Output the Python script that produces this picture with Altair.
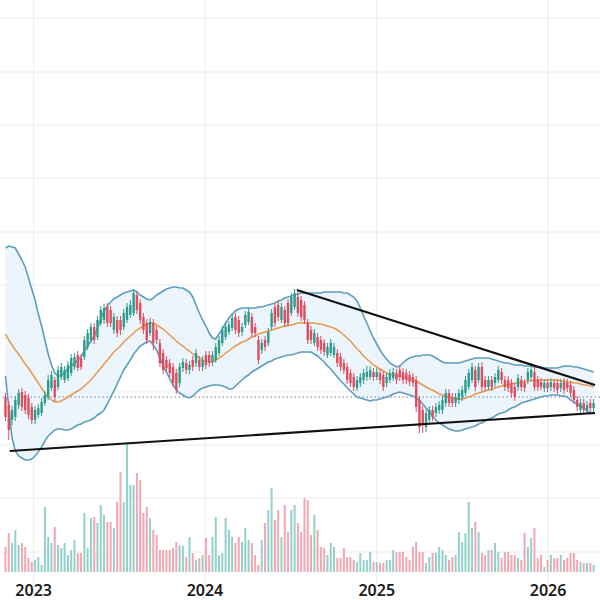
import altair as alt
import pandas as pd
import numpy as np

# ---------------- data (weekly candles) ----------------
open_ = [20.3,19.5,18.0,18.3,19.5,20.8,20.5,20.2,19.3,18.0,
         18.5,18.7,19.7,20.3,21.2,22.0,21.3,22.3,22.0,22.2,
         22.7,23.3,24.5,24.2,24.3,25.3,26.0,27.3,26.3,27.7,
         28.0,29.3,29.0,27.0,28.0,28.0,27.3,28.0,28.5,28.7,
         30.5,29.7,28.3,27.7,26.7,27.7,27.0,25.7,24.7,24.0,
         23.7,23.3,22.7,21.7,23.2,23.7,23.0,24.0,23.7,24.0,
         23.3,24.5,24.5,23.8,24.0,24.7,25.7,26.3,26.8,27.2,
         28.3,28.0,26.8,27.5,27.8,28.3,27.3,26.0,25.0,26.0,
         25.7,27.3,29.3,29.5,28.0,29.0,29.7,28.7,29.3,30.3,
         30.0,29.5,27.7,27.0,25.7,26.3,26.0,25.7,24.5,24.7,
         24.5,24.7,24.3,23.7,23.3,22.7,22.3,21.2,21.7,22.0,
         22.3,22.3,22.8,22.3,22.7,22.5,21.7,22.0,22.2,22.7,
         23.0,22.8,22.7,22.5,22.3,22.0,20.0,19.0,17.3,18.0,
         19.0,18.7,19.0,19.0,19.7,20.7,20.3,19.7,20.0,20.3,
         20.7,21.3,22.0,23.0,22.0,23.3,22.0,21.3,22.0,21.7,
         22.0,22.8,22.0,22.0,21.7,21.3,21.3,22.0,21.7,22.0,
         22.3,22.8,22.0,21.8,21.2,21.7,21.3,21.7,21.7,21.2,
         21.8,21.7,21.5,21.0,20.0,19.0,19.7,19.0,19.7,19.2]
high = [20.7,19.9,19.4,20.4,21.1,21.2,20.9,20.6,19.7,19.4,
        19.6,20.2,20.9,22.5,22.9,22.3,23.4,23.7,23.4,23.9,
        24.6,24.7,24.9,24.6,26.4,27.1,27.7,27.7,28.4,29.4,
        29.6,29.7,29.4,28.7,28.4,28.4,29.1,29.7,30.0,31.1,
        30.9,30.1,28.7,28.1,28.2,28.1,27.4,26.1,25.1,24.4,
        24.1,23.7,23.1,23.7,24.2,24.1,23.9,24.4,25.1,24.4,
        24.4,24.9,24.9,24.9,25.7,26.4,27.4,27.7,27.9,28.6,
        28.7,28.4,27.7,28.9,29.2,28.7,27.7,26.4,26.1,26.4,
        27.2,29.1,29.7,29.9,29.7,29.4,30.1,30.7,31.1,31.0,
        30.4,29.9,28.1,27.4,27.1,26.7,26.4,26.1,25.7,26.1,
        25.7,25.1,24.7,24.1,23.7,23.1,22.7,22.4,22.7,23.1,
        23.4,23.4,23.2,23.2,23.1,22.9,22.7,23.1,23.2,23.1,
        23.4,23.2,23.1,22.9,22.7,22.4,20.4,19.4,19.1,19.4,
        19.4,19.7,19.9,20.4,21.1,21.1,20.7,20.7,21.1,21.4,
        22.4,23.1,23.7,23.4,23.7,23.8,22.4,22.4,22.4,22.7,
        23.4,23.2,22.4,22.4,22.1,21.7,22.6,22.4,22.1,23.2,
        23.7,23.5,22.4,22.2,22.1,22.1,22.2,22.1,22.1,22.1,
        22.2,22.1,21.9,21.4,20.4,20.1,20.1,19.9,20.1,20.1]
low = [17.9,16.0,17.5,17.9,19.1,18.9,18.6,18.1,17.6,17.6,
       18.2,18.4,19.4,20.0,20.9,19.8,21.0,22.0,21.7,21.9,
       22.4,23.0,22.9,23.0,24.0,25.0,25.7,25.6,26.0,27.4,
       27.6,27.3,27.3,26.6,26.3,26.5,27.0,27.7,28.2,28.4,
       28.6,27.6,26.6,25.6,26.4,25.0,25.6,23.3,22.6,22.8,
       22.3,21.3,20.6,21.3,22.8,22.6,22.6,22.9,23.3,22.9,
       22.9,23.1,23.3,23.4,23.7,24.4,25.4,26.0,26.5,26.9,
       26.6,26.3,26.4,27.2,27.5,26.3,26.3,23.6,24.6,24.9,
       25.4,27.0,27.3,27.9,27.7,27.3,27.3,28.4,29.0,28.3,
       27.9,27.6,25.6,25.6,25.4,24.9,24.6,24.4,24.2,24.4,
       24.2,23.3,22.9,22.6,21.6,21.3,20.9,20.9,21.3,21.6,
       21.9,22.0,21.9,22.0,21.6,20.9,21.3,21.7,21.9,21.6,
       21.9,21.6,21.6,21.4,21.3,18.8,16.7,16.7,16.8,17.6,
       17.9,18.3,18.6,18.6,19.3,19.3,19.3,19.3,19.6,19.9,
       20.4,21.0,21.7,20.9,21.7,20.9,20.9,21.0,20.9,21.3,
       21.7,21.6,20.9,20.8,20.3,19.9,20.9,20.9,20.8,21.6,
       21.9,20.9,20.9,21.0,20.8,20.8,20.9,20.8,20.6,20.8,
       20.6,20.8,20.3,19.6,18.9,18.7,18.6,18.7,18.8,18.8]
close = [18.3,17.0,19.0,20.0,20.7,19.3,19.0,18.5,18.0,19.0,
         19.2,19.8,20.5,22.0,22.5,20.3,23.0,23.3,23.0,23.5,
         24.2,24.3,23.2,23.3,26.0,26.7,27.3,26.0,28.0,29.0,
         29.2,27.7,27.7,28.3,26.7,27.0,28.7,29.3,29.5,30.7,
         29.0,28.0,27.0,26.0,27.8,25.7,26.0,23.7,23.0,23.2,
         22.7,21.7,21.0,23.3,23.8,23.0,23.5,23.3,24.7,23.3,
         24.0,23.5,23.7,24.5,25.3,26.0,27.0,27.3,27.5,28.2,
         27.0,26.7,27.3,28.5,28.8,26.7,26.7,24.0,25.7,25.3,
         26.8,28.7,27.7,28.3,29.3,27.7,27.7,30.3,30.7,28.7,
         28.3,28.0,26.0,26.0,26.7,25.3,25.0,24.8,25.3,25.7,
         25.3,23.7,23.3,23.0,22.0,21.7,21.3,22.0,22.3,22.7,
         22.8,23.0,22.3,22.8,22.0,21.3,22.3,22.7,22.8,22.0,
         22.3,22.0,22.0,21.8,21.7,19.3,17.3,17.5,18.7,19.0,
         18.3,19.3,19.5,20.0,20.7,19.7,19.7,20.3,20.7,21.0,
         22.0,22.7,23.3,21.3,23.3,21.3,21.3,22.0,21.3,22.3,
         23.0,22.0,21.3,21.2,20.7,20.3,22.2,21.3,21.2,22.8,
         23.0,21.3,21.3,21.3,21.7,21.2,21.8,21.2,21.0,21.7,
         21.0,21.2,20.7,20.0,19.3,19.7,19.0,19.5,19.2,19.7]
volume = [2.5,3.9,2.9,4.2,2.7,2.9,2.5,1.4,1.0,1.2,
          1.5,0.7,6.5,3.5,2.9,4.5,2.7,2.4,2.9,1.7,
          2.2,3.2,1.9,1.9,5.9,2.4,5.4,5.5,4.9,6.7,
          5.7,5.0,5.0,4.4,7.0,10.0,7.0,12.9,8.7,8.7,
          9.9,9.2,5.9,6.5,5.4,4.2,3.7,2.2,2.2,2.2,
          2.2,2.4,3.0,2.7,2.6,1.5,3.5,1.9,1.2,1.4,
          1.7,3.4,1.7,3.5,5.5,1.7,1.9,5.4,4.2,3.5,
          2.9,3.5,3.0,4.4,3.2,2.9,1.7,0.7,3.2,4.9,
          6.2,8.4,5.2,6.2,3.5,6.7,4.0,6.2,6.7,4.9,
          4.0,7.4,7.2,3.7,5.7,4.2,2.5,2.4,1.7,2.9,
          2.5,1.4,1.4,2.4,1.5,1.5,1.2,1.0,1.9,1.2,
          1.2,2.0,1.0,1.0,0.9,0.9,1.2,1.2,2.2,2.0,
          2.0,2.0,1.5,1.2,2.5,3.0,2.0,2.0,0.9,1.5,
          1.9,1.9,2.5,2.2,1.7,1.2,1.5,1.7,4.0,3.0,
          3.9,7.0,4.4,5.0,4.0,1.9,1.7,2.2,2.2,2.9,
          2.0,1.4,2.0,2.0,1.7,1.7,1.4,1.2,3.9,2.5,
          3.4,4.4,1.4,1.7,0.5,1.2,1.7,1.4,1.4,1.7,
          1.2,1.4,1.9,1.9,1.2,1.0,0.9,0.9,0.9,0.7]
# Bollinger bands (20) as drawn on the chart
bb_upper = [35.2,35.4,35.3,35.2,34.6,34.0,33.3,32.2,31.1,30.0,
            28.6,27.4,26.0,24.6,23.5,22.7,22.4,22.4,22.8,23.1,
            23.4,23.7,24.0,24.3,24.9,25.4,25.9,26.4,27.2,28.1,
            28.9,29.4,29.8,30.1,30.3,30.5,30.7,30.8,30.9,31.0,
            30.8,30.5,30.3,30.1,30.0,30.2,30.5,30.7,30.9,31.1,
            31.2,31.3,31.3,31.2,31.2,31.0,30.8,30.3,29.5,28.7,
            28.0,27.4,26.7,26.2,26.1,26.6,27.1,27.7,28.2,28.6,
            28.9,29.1,29.2,29.2,29.2,29.2,29.2,29.3,29.3,29.4,
            29.5,29.6,29.7,29.9,30.0,30.2,30.3,30.4,30.5,30.6,
            30.7,30.7,30.7,30.7,30.7,30.7,30.7,30.8,30.8,30.8,
            30.8,30.8,30.8,30.7,30.7,30.5,30.3,29.9,29.2,28.4,
            27.7,26.9,26.2,25.6,25.0,24.5,24.1,23.7,23.5,23.3,
            23.4,23.7,24.0,24.2,24.3,24.4,24.4,24.5,24.5,24.5,
            24.4,24.2,24.0,23.8,23.7,23.7,23.7,23.7,23.7,23.8,
            23.9,24.0,24.1,24.2,24.2,24.2,24.2,24.2,24.1,24.0,
            23.9,23.8,23.7,23.7,23.6,23.5,23.5,23.5,23.4,23.4,
            23.4,23.3,23.3,23.3,23.2,23.2,23.2,23.2,23.2,23.3,
            23.4,23.4,23.4,23.3,23.3,23.2,23.1,23.0,22.9,22.8]
bb_mid = [26.6,26.0,25.5,25.0,24.6,24.1,23.6,23.2,22.7,22.2,
          21.7,21.2,20.7,20.3,20.0,19.8,19.8,19.9,20.1,20.3,
          20.5,20.7,20.9,21.1,21.4,21.7,22.0,22.4,22.8,23.2,
          23.6,24.0,24.4,24.8,25.1,25.4,25.8,26.1,26.4,26.7,
          27.0,27.2,27.4,27.6,27.7,27.7,27.5,27.3,27.1,26.8,
          26.5,26.2,25.9,25.6,25.4,25.1,24.9,24.6,24.4,24.2,
          24.0,23.9,23.8,23.8,24.0,24.2,24.4,24.7,24.9,25.2,
          25.4,25.6,25.8,25.9,26.1,26.3,26.4,26.6,26.7,26.8,
          26.9,27.0,27.1,27.2,27.3,27.4,27.5,27.5,27.6,27.7,
          27.7,27.7,27.7,27.7,27.7,27.6,27.6,27.5,27.4,27.3,
          27.2,27.0,26.8,26.5,26.2,25.9,25.5,25.1,24.8,24.4,
          24.1,23.8,23.5,23.3,23.1,22.9,22.7,22.6,22.5,22.4,
          22.4,22.3,22.2,22.1,22.0,21.9,21.7,21.5,21.3,21.1,
          21.0,20.8,20.6,20.5,20.4,20.3,20.2,20.1,20.1,20.1,
          20.2,20.3,20.4,20.6,20.7,20.8,20.9,21.0,21.1,21.2,
          21.3,21.4,21.5,21.5,21.6,21.7,21.7,21.8,21.8,21.9,
          21.9,22.0,22.0,22.0,22.0,22.0,22.0,22.0,22.0,21.9,
          21.9,21.8,21.8,21.7,21.7,21.6,21.5,21.5,21.4,21.3]
bb_lower = [22.4,19.3,16.2,14.9,14.4,14.2,14.0,14.0,14.1,14.4,
            14.8,15.3,15.9,16.4,16.7,17.0,17.1,17.1,17.0,17.0,
            17.1,17.3,17.5,17.6,17.8,17.9,18.0,18.2,18.5,18.7,
            19.0,19.6,20.3,20.9,21.6,22.3,23.0,23.5,24.0,24.6,
            25.0,25.4,25.6,25.8,25.9,25.5,25.0,24.2,23.4,22.8,
            22.1,21.5,21.0,20.7,20.5,20.3,20.2,20.4,20.7,21.0,
            21.2,21.3,21.4,21.5,21.5,21.5,21.4,21.3,21.1,21.1,
            21.4,21.7,22.0,22.3,22.5,22.8,23.0,23.2,23.4,23.6,
            23.8,23.9,24.1,24.2,24.3,24.4,24.5,24.5,24.6,24.7,
            24.8,24.8,24.8,24.8,24.6,24.4,24.1,23.8,23.4,23.1,
            22.7,22.3,21.9,21.6,21.2,20.9,20.6,20.3,20.2,20.1,
            20.0,19.9,20.0,20.0,20.1,20.2,20.3,20.4,20.6,20.7,
            20.8,20.7,20.6,20.5,20.4,20.2,20.0,19.6,19.2,18.8,
            18.4,18.0,17.7,17.5,17.3,17.1,17.0,16.9,16.9,17.0,
            17.1,17.2,17.3,17.4,17.6,17.7,17.9,18.1,18.2,18.4,
            18.6,18.7,18.8,19.0,19.2,19.3,19.5,19.7,19.8,19.9,
            20.0,20.1,20.2,20.3,20.4,20.4,20.5,20.5,20.5,20.4,
            20.4,20.3,20.0,19.8,19.6,19.4,19.2,18.9,18.7,18.6]

# hand-drawn trend lines (date, price)
trend_id = ["upper", "upper", "lower", "lower"]
trend_date = ["2024-07-15", "2026-04-11", "2022-11-11", "2026-04-11"]
trend_price = [31.0, 21.5, 14.9, 18.7]

ref_price = [20.3]                    # dotted reference line
years = ["2023", "2024", "2025", "2026"]
grid_prices = [58.2, 52.8, 47.5, 42.2, 36.8, 31.5, 26.2, 20.8, 15.5, 10.2, 4.8]

# ---------------- tables ----------------
dates = pd.date_range("2022-11-02", periods=len(close), freq="7D")
df = pd.DataFrame({"date": dates, "open": open_, "high": high, "low": low,
                   "close": close, "volume": volume,
                   "upper": bb_upper, "mid": bb_mid, "lower": bb_lower})
df["dir"] = np.where(df["close"] >= df["open"], "up", "down")

trend_df = pd.DataFrame({"id": trend_id, "date": pd.to_datetime(trend_date), "price": trend_price})
year_df = pd.DataFrame({"label": years, "date": pd.to_datetime([y + "-01-01" for y in years])})
grid_df = pd.DataFrame({"p": grid_prices})
ref_df = pd.DataFrame({"p": ref_price})

UP, DOWN = "#2e9c8c", "#df4d5f"
VUP, VDOWN = "#93d1c9", "#f3a7b2"

xs = alt.Scale(domain=[alt.DateTime(year=2022, month=11, date=1),
                       alt.DateTime(year=2026, month=4, date=11)])
X = alt.X("date:T", scale=xs, axis=None)
pscale = alt.Scale(domain=[0, 60])
vscale = alt.Scale(domain=[-2.8, 57.2])

vgrid = alt.Chart(year_df).mark_rule(color="#ececec", strokeWidth=1).encode(x=X)
hgrid = alt.Chart(grid_df).mark_rule(color="#ececec", strokeWidth=1).encode(
    y=alt.Y("p:Q", scale=pscale, axis=None))

vol = alt.Chart(df).mark_bar(width=2).encode(
    x=X, y=alt.Y("volume:Q", scale=vscale, axis=None),
    color=alt.Color("dir:N", scale=alt.Scale(domain=["up", "down"], range=[VUP, VDOWN]), legend=None))

band = alt.Chart(df).mark_area(color="#e4f1f9", opacity=0.75).encode(
    x=X, y=alt.Y("upper:Q", scale=pscale, axis=None), y2="lower:Q")
up_line = alt.Chart(df).mark_line(color="#5f9dbf", strokeWidth=1.6).encode(
    x=X, y=alt.Y("upper:Q", scale=pscale, axis=None))
lo_line = alt.Chart(df).mark_line(color="#5f9dbf", strokeWidth=1.6).encode(
    x=X, y=alt.Y("lower:Q", scale=pscale, axis=None))
mid_line = alt.Chart(df).mark_line(color="#e8994f", strokeWidth=1.5).encode(
    x=X, y=alt.Y("mid:Q", scale=pscale, axis=None))

ref = alt.Chart(ref_df).mark_rule(color="#6e7f9c", strokeWidth=1, strokeDash=[1.5, 2.5]).encode(
    y=alt.Y("p:Q", scale=pscale, axis=None))

ccol = alt.Color("dir:N", scale=alt.Scale(domain=["up", "down"], range=[UP, DOWN]), legend=None)
wick = alt.Chart(df).mark_rule(strokeWidth=1).encode(
    x=X, y=alt.Y("low:Q", scale=pscale, axis=None), y2="high:Q", color=ccol)
body = alt.Chart(df).mark_bar(width=2.4).encode(
    x=X, y=alt.Y("open:Q", scale=pscale, axis=None), y2="close:Q", color=ccol)

trend = alt.Chart(trend_df).mark_line(color="#111111", strokeWidth=2.2, clip=True).encode(
    x=X, y=alt.Y("price:Q", scale=pscale, axis=None), detail="id:N")

labels = alt.Chart(year_df).mark_text(fontSize=16, fontWeight=600, font="Noto Sans",
                                      color="#1b1b1b", baseline="middle").encode(
    x=X, y=alt.value(591), text="label:N")

chart = alt.layer(vgrid, hgrid, vol, band, ref, up_line, lo_line, mid_line,
                  wick, body, trend, labels).resolve_scale(
    y="independent", color="independent").properties(
    width=600, height=600, padding=0, autosize=alt.AutoSizeParams(type="none"),
    background="white").configure_view(stroke=None)

chart.save("out.html", embed_options={"renderer": "svg", "actions": False})
